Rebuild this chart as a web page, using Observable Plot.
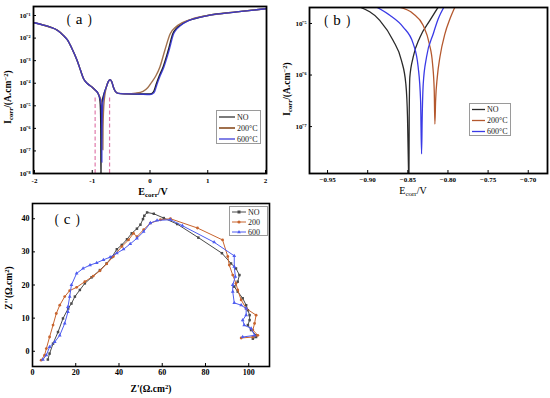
<!DOCTYPE html>
<html><head><meta charset="utf-8">
<script src="https://cdn.jsdelivr.net/npm/d3@7"></script>
<script src="https://cdn.jsdelivr.net/npm/@observablehq/plot@0.6"></script>
<style>
body{margin:0;background:#fff;}
#root{position:relative;width:550px;height:398px;overflow:hidden;background:#fff;}
.p{position:absolute;}
.lab{position:absolute;white-space:nowrap;color:#000;font-family:"Liberation Serif",serif;line-height:1;}
.rot{transform:translate(-50%,-50%) rotate(-90deg);}
.ctr{transform:translate(-50%,-50%);}
.lab sub{font-size:70%;vertical-align:-0.25em;}
.lab sup{font-size:70%;vertical-align:0.45em;}
.pl .pa{display:inline-block;transform:scaleX(0.8);}
.pl .gap{display:inline-block;width:0.3em;}
.leg{position:absolute;border:1px solid #9a9a9a;background:#fff;box-sizing:border-box;}
.leg svg{position:absolute;left:0;top:0;overflow:visible;}
</style></head><body><div id="root"></div>
<script>
// ---------- Panel (a): full polarization curves (E in V, log10 I) ----------
const aE_NO  = [-2.0,-1.85,-1.72,-1.6,-1.5,-1.43,-1.35,-1.26,-1.2,-1.15,-1.09,-1.0,-0.95,-0.9,-0.87,-0.857,-0.852,-0.849,-0.846,-0.842,-0.83,-0.8,-0.76,-0.72,-0.69,-0.66,-0.63,-0.6,-0.55,-0.45,-0.2,0.0,0.06,0.11,0.165,0.225,0.315,0.395,0.46,0.53,0.65,0.8,1.0,1.5,2.0];
const aL_NO  = [-1.32,-1.42,-1.52,-1.66,-1.88,-2.08,-2.47,-3.0,-3.45,-3.8,-4.0,-4.18,-4.3,-4.45,-4.7,-5.2,-6.0,-8.3,-6.0,-5.3,-4.85,-4.5,-4.2,-3.92,-3.84,-3.95,-4.2,-4.36,-4.45,-4.47,-4.48,-4.48,-4.38,-4.02,-3.65,-3.29,-2.55,-1.81,-1.56,-1.42,-1.24,-1.12,-1.0,-0.84,-0.7];
const aE_200 = [-2.0,-1.85,-1.72,-1.6,-1.5,-1.43,-1.35,-1.26,-1.2,-1.15,-1.09,-1.0,-0.95,-0.9,-0.87,-0.84,-0.825,-0.818,-0.816,-0.814,-0.81,-0.8,-0.78,-0.76,-0.72,-0.69,-0.66,-0.63,-0.6,-0.55,-0.4,-0.25,-0.12,-0.04,0.03,0.1,0.17,0.256,0.35,0.45,0.55,0.7,0.8,1.0,1.5,2.0];
const aL_200 = [-1.32,-1.42,-1.52,-1.66,-1.88,-2.08,-2.47,-3.0,-3.45,-3.8,-4.0,-4.18,-4.3,-4.45,-4.6,-4.85,-5.1,-5.8,-6.95,-6.1,-5.6,-5.0,-4.5,-4.2,-3.92,-3.84,-3.95,-4.2,-4.36,-4.45,-4.47,-4.44,-4.36,-4.2,-3.95,-3.68,-3.29,-2.55,-1.81,-1.5,-1.33,-1.18,-1.1,-1.0,-0.84,-0.7];
const aE_600 = [-2.0,-1.85,-1.72,-1.6,-1.5,-1.43,-1.35,-1.26,-1.2,-1.15,-1.09,-1.0,-0.95,-0.9,-0.87,-0.845,-0.837,-0.834,-0.833,-0.832,-0.829,-0.82,-0.8,-0.76,-0.72,-0.69,-0.66,-0.63,-0.6,-0.55,-0.45,-0.2,0.0,0.07,0.125,0.18,0.24,0.33,0.41,0.47,0.53,0.65,0.8,1.0,1.5,2.0];
const aL_600 = [-1.32,-1.42,-1.52,-1.66,-1.88,-2.08,-2.47,-3.0,-3.45,-3.8,-4.0,-4.18,-4.3,-4.45,-4.65,-4.95,-5.5,-6.5,-7.5,-6.5,-5.6,-5.0,-4.55,-4.2,-3.92,-3.84,-3.95,-4.2,-4.36,-4.45,-4.47,-4.48,-4.5,-4.42,-4.02,-3.65,-3.29,-2.55,-1.81,-1.58,-1.44,-1.25,-1.12,-1.0,-0.84,-0.7];
const aRefE  = [-0.95,-0.70];           // dashed reference lines
const aRefLog = [-8, -4.64];
const aXTicks = [-2,-1,0,1,2];
const aYTicks = [-8,-7,-6,-5,-4,-3,-2,-1];

// ---------- Panel (b): zoom around Ecorr ----------
const bE_NO  = [-0.91,-0.885,-0.8683,-0.8579,-0.8525,-0.8504,-0.8491,-0.8487,-0.8483,-0.8475,-0.8433,-0.835,-0.8225,-0.8121];
const bL_NO  = [-4.68,-4.94,-5.33,-5.72,-6.17,-6.82,-7.89,-8.3,-6.82,-6.04,-5.65,-5.27,-4.94,-4.68];
const bE_200 = [-0.862,-0.8433,-0.8308,-0.8233,-0.8192,-0.8171,-0.8163,-0.8154,-0.8133,-0.81,-0.8038,-0.7975,-0.7913];
const bL_200 = [-4.68,-4.81,-5.04,-5.39,-5.78,-6.3,-6.95,-6.5,-6.04,-5.65,-5.2,-4.91,-4.68];
const bE_600 = [-0.8892,-0.8725,-0.8558,-0.8433,-0.8371,-0.8341,-0.8329,-0.8321,-0.8308,-0.8267,-0.8183,-0.8121,-0.805];
const bL_600 = [-4.68,-4.84,-5.07,-5.39,-5.85,-6.5,-7.53,-6.82,-6.17,-5.65,-5.2,-4.91,-4.68];
const bXTicks = [-0.95,-0.90,-0.85,-0.80,-0.75,-0.70];
const bYTicks = [-7,-6,-5];

// ---------- Panel (c): Nyquist plots ----------
const cX_NO = [7.1,7.9,9.5,11.8,14.1,16.5,18.0,19.6,21.9,24.2,27.3,31.2,34.3,36.7,39.0,41.3,43.7,45.9,48.3,49.9,51.1,51.7,53.0,56.1,60.7,66.9,76.7,87.6,91.8,94.1,95.7,94.9,93.3,94.9,97.2,98.8,99.6,100.4,100.4,99.6,101.1,103.4,103.4,101.9];
const cY_NO = [-2.5,-0.7,2.3,5.8,9.9,12.9,14.4,16.5,18.5,20.5,22.3,24.5,26.5,28.4,30.8,32.1,33.8,35.6,37.0,38.2,39.9,40.9,41.9,41.5,40.2,38.4,34.3,29.6,26.5,25.0,23.0,21.0,19.5,18.0,16.0,13.9,12.4,10.9,9.4,7.9,6.4,4.8,4.3,3.8];
const cX_200 = [4.0,5.6,6.4,7.9,9.5,11.0,12.6,14.9,17.2,20.4,24.2,28.1,31.2,34.3,37.4,41.3,44.4,46.7,48.3,51.4,54.5,59.2,63.8,76.3,87.9,90.3,91.0,92.6,94.1,94.9,96.5,98.8,103.4,102.7,101.9,104.2,101.9,96.5];
const cY_200 = [-2.7,-1.2,0.8,4.3,7.9,11.4,13.9,16.5,18.3,19.3,21.0,22.7,24.3,26.4,28.6,31.6,33.6,35.6,34.6,36.7,38.7,39.7,40.0,37.2,33.6,28.6,26.0,23.0,20.5,18.5,15.5,12.9,10.9,8.4,6.4,4.8,4.3,4.0];
const cX_600 = [4.8,6.4,7.9,10.3,12.6,14.9,16.4,16.4,17.2,18.0,20.4,23.4,26.6,29.7,32.8,35.9,39.0,42.1,45.2,48.3,51.4,54.5,57.6,63.8,69.3,84.0,93.3,93.3,93.8,92.6,92.6,93.3,96.5,98.8,98.8,97.2,97.9,101.1,102.7,97.2];
const cY_600 = [-2.5,-1.2,1.3,2.8,4.8,8.4,11.9,13.4,16.5,20.0,23.5,25.0,26.0,26.7,27.6,28.4,29.6,30.8,32.4,34.1,36.1,38.7,39.5,39.7,37.9,32.9,28.8,25.5,22.5,20.0,18.0,14.6,13.9,12.9,10.9,9.4,7.9,6.9,4.8,4.3];
const cXTicks = [0,20,40,60,80,100];
const cYTicks = [0,10,20,30,40];

const seriesNames = ["NO","200\u00B0C","600\u00B0C"];
const seriesNamesC = ["NO","200","600"];
const panelNames = ["a","b","c"];

// ---------- helpers ----------
const sup = {"-":"\u207B","0":"\u2070","1":"\u00B9","2":"\u00B2","3":"\u00B3","4":"\u2074","5":"\u2075","6":"\u2076","7":"\u2077","8":"\u2078","9":"\u2079"};
const pow10 = d => "10" + String(d).split("").map(c => sup[c]).join("");
const rows = (X, Y) => X.map((x, i) => ({x, y: Y[i]}));
const baseStyle = {background:"transparent", fontFamily:"Liberation Serif", fontSize:"7px", fontWeight:"bold", color:"#000", overflow:"visible"};
const root = document.getElementById("root");
function place(el, left, top){ el.classList.add("p"); el.style.left = left+"px"; el.style.top = top+"px"; root.appendChild(el); }
function label(html, x, y, cls, size, weight){
  const d = document.createElement("div");
  d.className = "lab " + cls; d.innerHTML = html;
  d.style.left = x+"px"; d.style.top = y+"px"; d.style.fontSize = size+"px"; d.style.fontWeight = weight;
  root.appendChild(d);
}
function legend(x, y, w, h, items){
  const d = document.createElement("div");
  d.className = "leg";
  d.style.left = x+"px"; d.style.top = y+"px"; d.style.width = w+"px"; d.style.height = h+"px";
  let s = `<svg width="${w}" height="${h}">`;
  items.forEach(it => {
    s += `<line x1="${it.x1}" x2="${it.x2}" y1="${it.y}" y2="${it.y}" stroke="${it.color}" stroke-width="${it.sw}"/>`;
    if (it.sym === "square") s += `<rect x="${(it.x1+it.x2)/2-1.5}" y="${it.y-1.5}" width="3" height="3" fill="${it.color}"/>`;
    if (it.sym === "circle") s += `<circle cx="${(it.x1+it.x2)/2}" cy="${it.y}" r="1.6" fill="${it.color}"/>`;
    if (it.sym === "triangle") { const cx=(it.x1+it.x2)/2; s += `<path d="M${cx},${it.y-2}L${cx+1.8},${it.y+1.3}L${cx-1.8},${it.y+1.3}Z" fill="${it.color}"/>`; }
    s += `<text x="${it.tx}" y="${it.y}" dy="0.35em" font-family="Liberation Serif" font-size="${it.fs}" fill="#222">${it.label}</text>`;
  });
  s += "</svg>";
  d.innerHTML = s;
  root.appendChild(d);
}

// ---------- Panel (a) ----------
const colA = ["#222222","#a0704c","#2e2ed6"];
const plotA = Plot.plot({
  width: 280, height: 200, marginLeft: 33, marginRight: 14, marginTop: 6, marginBottom: 27,
  x: {domain: [-2.017, 2.017]}, y: {domain: [-8, -0.6]},
  style: baseStyle,
  marks: [
    Plot.ruleX(aRefE, {y1: aRefLog[0], y2: aRefLog[1], stroke: "#e07aaa", strokeWidth: 1.2, strokeDasharray: "4,2.5"}),
    Plot.line(rows(aE_NO, aL_NO), {x: "x", y: "y", stroke: colA[0], strokeWidth: 1.4, curve: "monotone-x", clip: true}),
    Plot.line(rows(aE_200, aL_200), {x: "x", y: "y", stroke: colA[1], strokeWidth: 1.4, curve: "monotone-x", clip: true}),
    Plot.line(rows(aE_600, aL_600), {x: "x", y: "y", stroke: colA[2], strokeWidth: 1.3, strokeOpacity: 0.85, curve: "monotone-x", clip: true}),
    Plot.ruleX(aXTicks, {insetTop: 164, stroke: "#000", strokeWidth: 1}),
    Plot.ruleY(aYTicks, {insetRight: 230, stroke: "#000", strokeWidth: 1}),
    Plot.axisX(aXTicks, {tickSize: 0, tickPadding: 5, tickFormat: d => String(d), label: null}),
    Plot.axisY(aYTicks, {tickSize: 0, tickPadding: 3, tickFormat: pow10, label: null}),
    Plot.frame({stroke: "#000", strokeWidth: 1.8})
  ]
});
place(plotA, 0, 0);

// ---------- Panel (b) ----------
const colB = ["#2a2a2a","#b4582e","#3a3ae6"];
const plotB = Plot.plot({
  width: 270, height: 200, marginLeft: 29, marginRight: 3, marginTop: 7, marginBottom: 27,
  x: {domain: [-0.9725, -0.676]}, y: {domain: [-7.91, -4.69]},
  style: baseStyle,
  marks: [
    Plot.line(rows(bE_NO, bL_NO), {x: "x", y: "y", stroke: colB[0], strokeWidth: 1.3, curve: "monotone-x", clip: true}),
    Plot.line(rows(bE_200, bL_200), {x: "x", y: "y", stroke: colB[1], strokeWidth: 1.3, curve: "monotone-x", clip: true}),
    Plot.line(rows(bE_600, bL_600), {x: "x", y: "y", stroke: colB[2], strokeWidth: 1.3, curve: "monotone-x", clip: true}),
    Plot.ruleX(bXTicks, {insetTop: 163, stroke: "#000", strokeWidth: 1}),
    Plot.ruleY(bYTicks, {insetRight: 235, stroke: "#000", strokeWidth: 1}),
    Plot.axisX(bXTicks, {tickSize: 0, tickPadding: 4, tickFormat: d => d.toFixed(2).replace("-", "\u2212"), label: null}),
    Plot.axisY(bYTicks, {tickSize: 0, tickPadding: 3, tickFormat: pow10, label: null}),
    Plot.frame({stroke: "#000", strokeWidth: 1.8})
  ]
});
place(plotB, 280, 0);

// ---------- Panel (c) ----------
const colC = ["#4a4a4a","#c8642e","#4e5cf0"];
const symC = ["square","circle","triangle"];
const cSeries = [rows(cX_NO, cY_NO), rows(cX_200, cY_200), rows(cX_600, cY_600)];
const plotC = Plot.plot({
  width: 280, height: 198, marginLeft: 32, marginRight: 11, marginTop: 3, marginBottom: 32,
  x: {domain: [0, 109.6]}, y: {domain: [-4.6, 44.6]},
  symbol: {type: "identity"},
  style: Object.assign({}, baseStyle, {fontSize: "8px"}),
  marks: [
    ...cSeries.flatMap((d, i) => [
      Plot.line(d, {x: "x", y: "y", stroke: colC[i], strokeWidth: 1}),
      Plot.dot(d, {x: "x", y: "y", fill: colC[i], r: 1.4, symbol: () => symC[i]})
    ]),
    Plot.ruleX(cXTicks, {insetTop: 160, stroke: "#000", strokeWidth: 1}),
    Plot.ruleY(cYTicks, {insetRight: 234, stroke: "#000", strokeWidth: 1}),
    Plot.axisX(cXTicks, {tickSize: 0, tickPadding: 3, label: null}),
    Plot.axisY(cYTicks, {tickSize: 0, tickPadding: 3, label: null}),
    Plot.frame({stroke: "#000", strokeWidth: 1.6})
  ]
});
place(plotC, 0, 200);

// ---------- titles and labels ----------
const pl = n => `<span class="pa">(</span><span class="gap"></span>${n}<span class="gap"></span><span class="pa">)</span>`;
label(pl(panelNames[0]), 79, 19, "ctr pl", 15, "normal");
label(pl(panelNames[1]), 337, 20, "ctr pl", 15, "normal");
label(pl(panelNames[2]), 67, 219, "ctr pl", 15, "normal");

label("I<sub>corr</sub>/(A.cm<sup>\u22122</sup>)", 9, 97, "rot", 9.5, "bold");
label("E<sub>corr</sub>/V", 153, 193, "ctr", 10, "bold");
label("I<sub>corr</sub>/(A.cm<sup>\u22122</sup>)", 288, 89, "rot", 9.5, "bold");
label("E<sub>corr</sub>/V", 413, 192, "ctr", 10, "normal");
label("Z''(\u03A9.cm<sup>2</sup>)", 9, 288, "rot", 9.5, "bold");
label("Z'(\u03A9.cm<sup>2</sup>)", 151, 389, "ctr", 9.5, "bold");

// ---------- legends ----------
legend(216, 110, 45, 34, [
  {x1: 2, x2: 18, y: 6, color: colA[0], sw: 1.2, tx: 20, fs: 8, label: seriesNames[0]},
  {x1: 2, x2: 18, y: 17, color: colA[1], sw: 2, tx: 20, fs: 8, label: seriesNames[1]},
  {x1: 2, x2: 18, y: 28, color: colA[2], sw: 1.2, tx: 20, fs: 8, label: seriesNames[2]}
]);
legend(469, 103, 42, 33, [
  {x1: 2, x2: 15, y: 5.5, color: colB[0], sw: 1.3, tx: 17, fs: 8, label: seriesNames[0]},
  {x1: 2, x2: 15, y: 16.5, color: colB[1], sw: 1.3, tx: 17, fs: 8, label: seriesNames[1]},
  {x1: 2, x2: 15, y: 27.5, color: colB[2], sw: 1.3, tx: 17, fs: 8, label: seriesNames[2]}
]);
legend(229, 206, 39, 30, [
  {x1: 2, x2: 16, y: 5, color: colC[0], sw: 1, tx: 18, fs: 8, label: seriesNamesC[0], sym: symC[0]},
  {x1: 2, x2: 16, y: 15, color: colC[1], sw: 1, tx: 18, fs: 8, label: seriesNamesC[1], sym: symC[1]},
  {x1: 2, x2: 16, y: 25, color: colC[2], sw: 1, tx: 18, fs: 8, label: seriesNamesC[2], sym: symC[2]}
]);
</script></body></html>
